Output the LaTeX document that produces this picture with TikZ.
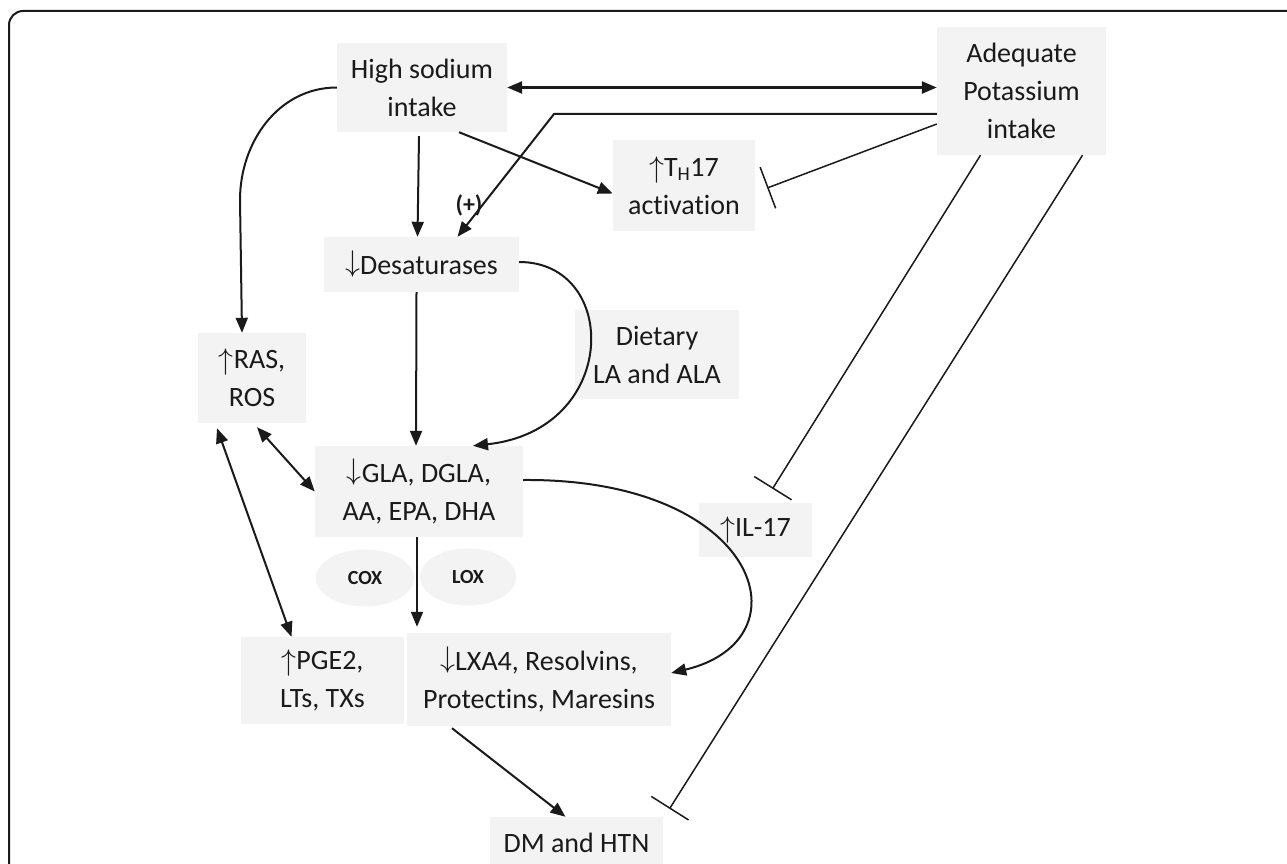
\documentclass[tikz,border=0pt]{standalone}
\usepackage{fontspec}
\setmainfont{Carlito}[Ligatures=NoCommon]
\usetikzlibrary{arrows.meta,shapes.geometric}

\definecolor{boxgray}{HTML}{F3F3F3}
\definecolor{inkblack}{HTML}{1A1A1A}
\newcommand{\incr}{\raisebox{-0.02em}{\scalebox{1.2}{$\uparrow$}}}
\newcommand{\decr}{\raisebox{0.1em}{\scalebox{1.2}{$\downarrow$}}}

\begin{document}
\begin{tikzpicture}[x=1pt, y=-1pt,
    >={Triangle[length=15pt,width=12pt]},
    box/.style={fill=boxgray, text=inkblack, align=center, inner sep=0pt,
        font=\fontsize{28}{38}\selectfont},
    enzyme/.style={ellipse, fill=boxgray, text=inkblack, inner sep=0pt,
        font=\bfseries\fontsize{20}{22}\selectfont},
    link/.style={draw=inkblack, line width=2pt},
    inhibit/.style={draw=inkblack, line width=1.5pt, -{Bar[width=44pt,line width=1.5pt]}}]
    \useasboundingbox (0,0) rectangle (1287,864);
    \clip (0,0) rectangle (1287,864);
    \fill[white] (0,0) rectangle (1287,864);
    \draw[inkblack, line width=2pt, rounded corners=14pt] (9,900) -- (9,11) -- (1320,11);

    % boxes
    \node[box, minimum width=170pt, minimum height=89pt] (sodium) at (422,87.5) {High sodium\\intake};
    \node[box, minimum width=169pt, minimum height=128pt] (potassium) at (1021.5,91) {Adequate\\Potassium\\intake};
    \node[box, minimum width=142pt, minimum height=91pt] (th17) at (684,185.5) {\incr T\textsubscript{H}17\\activation};
    \node[box, minimum width=195pt, minimum height=55pt] (desat) at (421.5,264.5) {\decr Desaturases};
    \node[box, minimum width=164pt, minimum height=89pt] (dietary) at (657,354.5) {Dietary\\LA and ALA};
    \node[box, minimum width=108pt, minimum height=90pt] (ras) at (252,378) {\incr RAS,\\ROS};
    \node[box, minimum width=208pt, minimum height=91pt] (gla) at (419,491.5) {\decr GLA, DGLA,\\AA, EPA, DHA};
    \node[enzyme, minimum width=98pt, minimum height=57pt] (cox) at (365,578) {COX};
    \node[enzyme, minimum width=96pt, minimum height=57pt] (lox) at (468,577) {LOX};
    \node[box, minimum width=113pt, minimum height=54pt] (il17) at (755.5,530) {\incr IL-17};
    \node[box, minimum width=163pt, minimum height=87pt] (pge) at (322.5,680.5) {\incr PGE2,\\LTs, TXs};
    \node[box, minimum width=264pt, minimum height=93pt] (lxa) at (539,679.5) {\decr LXA4, Resolvins,\\Protectins, Maresins};
    \node[box, minimum width=173pt, minimum height=52pt] (dm) at (576.5,843) {DM and HTN};
    \node[text=inkblack, font=\bfseries\fontsize{24}{26}\selectfont] (plus) at (469,205) {(+)};

    \coordinate (kbend) at (554,114);
    \coordinate (rasturn) at (240,200);

    \draw[link, line width=2.5pt, <->] (sodium.east) -- (sodium.east -| potassium.west);
    \draw[link, ->] ([yshift=-23pt]potassium.west) -- (kbend) -- ([xshift=36pt]desat.north);
    \draw[inhibit] ([yshift=-33pt]potassium.west) -- ([xshift=12pt,yshift=-2.5pt]th17.east);
    \draw[link, ->] ([xshift=37pt]sodium.south) -- ([yshift=-8pt]th17.west);
    \draw[link, ->] ([xshift=-3pt,yshift=-4pt]sodium.south) -- ([xshift=-4pt]desat.north);
    \draw[link, ->] (sodium.west) to[out=180,in=90] (rasturn) -- ([xshift=-10pt]ras.north);
    \draw[link, ->] ([xshift=-5pt]desat.south) -- ([xshift=-3pt]gla.north);
    \draw[link, ->] ([yshift=2.5pt]desat.east) .. controls (620,262) and (620,430) .. ([xshift=54pt]gla.north);
    \draw[link, <->] ([xshift=5pt,yshift=-4pt]ras.south) -- (gla.west);
    \draw[link, <->] ([xshift=-35pt,yshift=-5pt]ras.south) -- ([xshift=-31pt]pge.north);
    \draw[link, ->, shorten >=6pt] ([xshift=-2pt]gla.south) -- ([xshift=-2pt]gla.south |- lxa.north);
    \draw[link, ->] ([yshift=11.5pt]gla.east) .. controls (760,478) and (810,640) .. ([yshift=6.5pt]lxa.east);
    \draw[link, ->] ([xshift=-87pt,yshift=-2pt]lxa.south) -- ([xshift=-11pt]dm.north);
    \draw[inhibit] ([xshift=-41pt]potassium.south) -- ([xshift=17pt,yshift=14pt]il17.north);
    \draw[inhibit] ([xshift=61pt]potassium.south) -- ([xshift=93pt,yshift=8pt]dm.north);
\end{tikzpicture}
\end{document}
